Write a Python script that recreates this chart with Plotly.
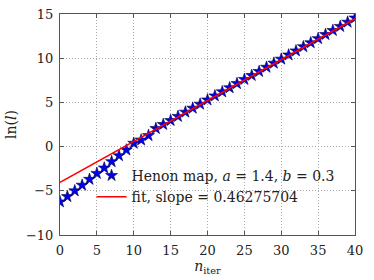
import plotly.graph_objects as go

n_iter = list(range(0, 41))
ln_l = [-6.25, -5.65, -5.0, -4.36, -3.7, -3.03, -2.42, -1.7, -1.02, -0.38,
        0.38, 0.75, 1.25, 2.05, 2.5, 2.95, 3.42, 3.9, 4.35, 4.8,
        5.28, 5.74, 6.2, 6.66, 7.13, 7.6, 8.05, 8.5, 8.98, 9.44,
        9.9, 10.37, 10.83, 11.3, 11.75, 12.22, 12.68, 13.14, 13.6, 14.08, 14.55]
fit_slope = 0.46275704
fit_intercept = -4.05
fit_x = [0, 40]
fit_y = [fit_intercept + fit_slope * v for v in fit_x]

x_ticks = [0, 5, 10, 15, 20, 25, 30, 35, 40]
y_ticks = [-10, -5, 0, 5, 10, 15]

FONT = "DejaVu Serif"

fig = go.Figure()
fig.add_trace(go.Scatter(
    x=n_iter, y=ln_l, mode="markers",
    marker=dict(symbol="star", size=9, color="#0000ee",
                line=dict(color="#000040", width=0.6)),
    name="Henon map, <i>a</i> = 1.4, <i>b</i> = 0.3",
))
fig.add_trace(go.Scatter(
    x=fit_x, y=fit_y, mode="lines",
    line=dict(color="#ff0000", width=1.5),
    name="fit, slope = 0.46275704",
))

axis_common = dict(
    showline=True, linecolor="#555555", linewidth=1, mirror="allticks",
    ticks="inside", ticklen=4, tickcolor="#555555",
    showgrid=True, gridcolor="#aaaaaa", griddash="1px,2px", gridwidth=1,
    zeroline=False, automargin=False, ticklabelstandoff=3,
    tickfont=dict(family=FONT, size=13, color="#222222"),
)

fig.update_layout(
    width=374, height=280,
    margin=dict(l=60, r=19, t=14, b=45.3, autoexpand=False),
    paper_bgcolor="white", plot_bgcolor="white",
    font=dict(family=FONT, color="#222222"),
    showlegend=True,
    legend=dict(x=0.107, y=0.34, xanchor="left", yanchor="top",
                bgcolor="rgba(0,0,0,0)", borderwidth=0,
                font=dict(family=FONT, size=14, color="#222222"),
                itemwidth=30, tracegroupgap=0),
    xaxis=dict(range=[0, 40], tickvals=x_ticks,
               title=dict(text="<i>n</i><sub>iter</sub>", standoff=4,
                          font=dict(family=FONT, size=14)),
               **axis_common),
    yaxis=dict(range=[-10, 15], tickvals=y_ticks,
               title=dict(text="ln(<i>l</i>)", standoff=6,
                          font=dict(family=FONT, size=14)),
               **axis_common),
)

fig.write_html("out.html", config={"displayModeBar": False},
               post_script="document.body.style.margin='0';")
